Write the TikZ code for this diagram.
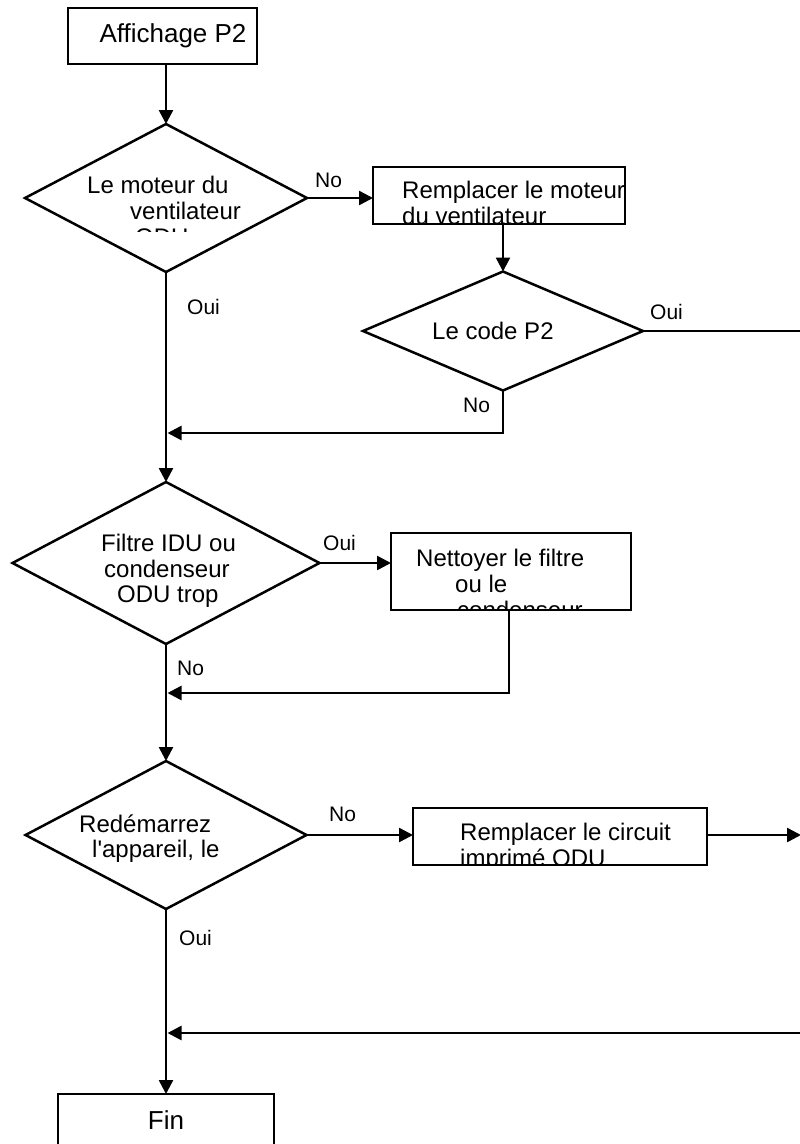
\documentclass[tikz,border=0pt]{standalone}
\usepackage{fontspec}
\setmainfont{Liberation Sans}
\usetikzlibrary{shapes.geometric,arrows.meta}
\begin{document}
\begin{tikzpicture}[x=1pt,y=-1pt,
  box/.style={draw, rectangle, inner sep=0pt, outer sep=0pt, line width=2.5pt},
  dec/.style={draw, diamond, inner sep=0pt, outer sep=0pt, line width=2.5pt},
  txt/.style={anchor=base west, inner sep=0pt, font=\fontsize{24}{28}\selectfont},
  big/.style={anchor=base, inner sep=0pt, font=\fontsize{26}{30}\selectfont},
  lab/.style={anchor=base west, inner sep=0pt, font=\fontsize{21}{25}\selectfont},
  arr/.style={-{Triangle[length=14pt,width=14pt]}, line width=2.5pt},
  ln/.style={line width=2.5pt}]
\clip (0,0) rectangle (800,1144);
\fill[white] (0,0) rectangle (800,1144);

% shapes
\node[box, minimum width=189, minimum height=56] (b0) at (162.5,36) {};
\node[dec, minimum width=282, minimum height=148] (d1) at (166,198) {};
\node[box, minimum width=252, minimum height=57] (b1) at (499,195.5) {};
\node[dec, minimum width=280, minimum height=119] (d2) at (503,331) {};
\node[dec, minimum width=307, minimum height=162] (d3) at (166,563) {};
\node[box, minimum width=240, minimum height=77] (b2) at (511,571.5) {};
\node[dec, minimum width=281, minimum height=148] (d4) at (166,835) {};
\node[box, minimum width=294, minimum height=57] (b3) at (560,836.5) {};
\node[box, minimum width=216, minimum height=80] (fin) at (166,1134) {};

% texts
\node[big] (t0) at (173,42) {Affichage P2};
\node[txt] (t1a) at (87,193) {Le moteur du};
\node[txt] (t1b) at (130,219) {ventilateur};
\begin{scope}
  \clip (100,200) rectangle (250,231);
  \node[txt] (t1c) at (135,245) {ODU};
\end{scope}
\node[txt] (t2a) at (402,198) {Remplacer le moteur};
\begin{scope}
  \clip (380,200) rectangle (622,223);
  \node[txt] (t2b) at (402,224) {du ventilateur};
\end{scope}
\node[txt] (t3) at (432,339) {Le code P2};
\node[txt] (t4a) at (101,551) {Filtre IDU ou};
\node[txt] (t4b) at (104,577) {condenseur};
\node[txt] (t4c) at (117,602) {ODU trop};
\node[txt] (t5a) at (416,566) {Nettoyer le filtre};
\node[txt] (t5b) at (455,592) {ou le};
\begin{scope}
  \clip (400,580) rectangle (628,609);
  \node[txt] (t5c) at (457,618) {condenseur};
\end{scope}
\node[txt] (t6a) at (79,832) {Redémarrez};
\node[txt] (t6b) at (92,857) {l\textquotesingle appareil, le};
\node[txt] (t7a) at (460,840) {Remplacer le circuit};
\begin{scope}
  \clip (420,845) rectangle (704,864);
  \node[txt] (t7b) at (460,866) {imprimé ODU};
\end{scope}
\node[big] (t8) at (166,1129) {Fin};

% connector labels
\node[lab] (l1) at (315,187) {No};
\node[lab] (l2) at (650,319) {Oui};
\node[lab] (l3) at (463,412) {No};
\node[lab] (l4) at (187,314) {Oui};
\node[lab] (l5) at (323,550) {Oui};
\node[lab] (l6) at (177,675) {No};
\node[lab] (l7) at (329,821) {No};
\node[lab] (l8) at (179,945) {Oui};

% coordinates for junctions and off-page ends
\coordinate (j1) at (167.5,433);
\coordinate (j2) at (167.5,693);
\coordinate (j3) at (167.5,1033);
\coordinate (k2) at (509,693);
\coordinate (r1) at (812,1033);
\coordinate (r2) at (801,835);

% connectors
\draw[arr] (b0.south -| d1.north) -- (d1.north);
\draw[arr] (d1.east) -- (d1.east -| b1.west);
\draw[arr] (b1.south -| d2.north) -- (d2.north);
\draw[arr] (d2.south) |- (j1);
\draw[ln] (d2.east) -| (r1);
\draw[arr] (r1) -- (j3);
\draw[arr] (d1.south) -- (d3.north);
\draw[arr] (d3.east) -- (d3.east -| b2.west);
\draw[arr] (b2.south -| k2) -- (k2) -- (j2);
\draw[arr] (d3.south) -- (d4.north);
\draw[arr] (d4.east) -- (d4.east -| b3.west);
\draw[arr] (b3.east |- r2) -- (r2);
\draw[arr] (d4.south) -- (fin.north);
\end{tikzpicture}
\end{document}
